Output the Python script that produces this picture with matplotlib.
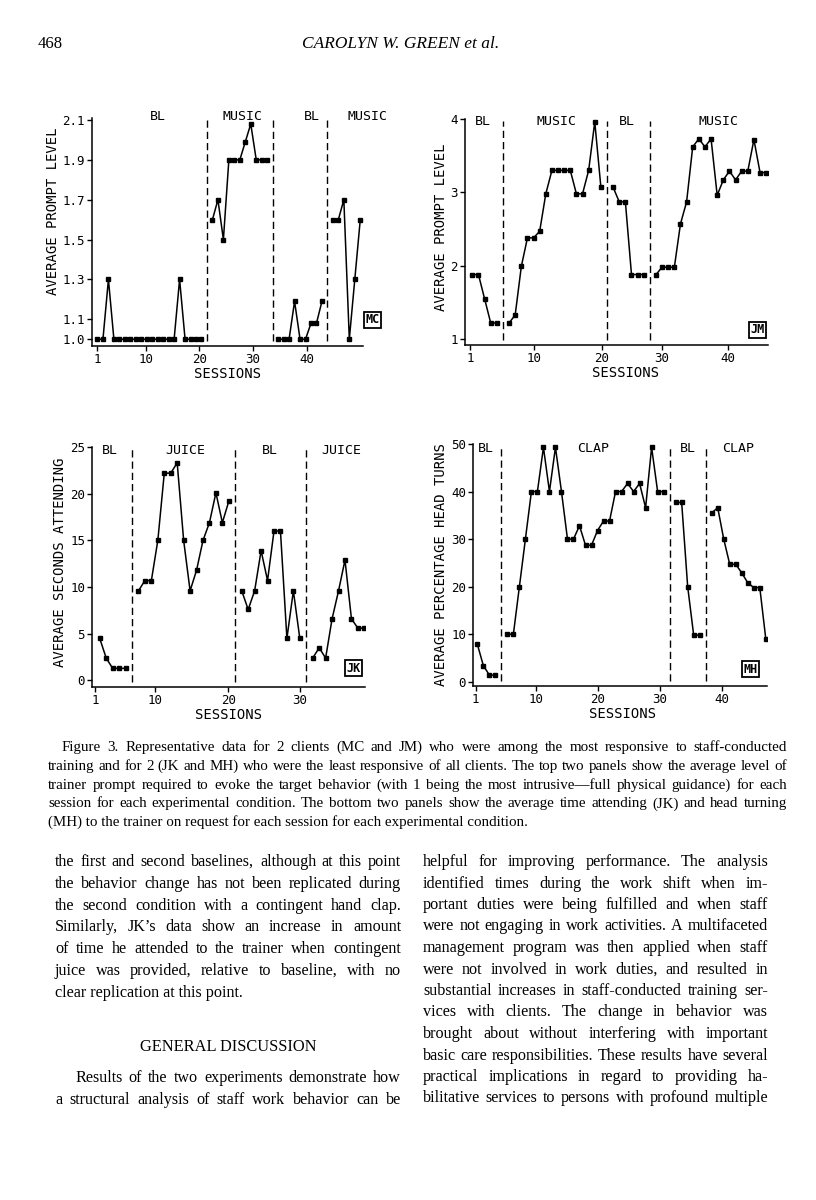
import numpy as np
import matplotlib.pyplot as plt
from matplotlib.transforms import blended_transform_factory

W, H = 816, 1200

# ---- MC: average prompt level ----
mc_names = ["BL", "MUSIC", "BL", "MUSIC"]
mc_bl1 = [1.0, 1.0, 1.3, 1.0, 1.0, 1.0, 1.0, 1.0, 1.0, 1.0, 1.0, 1.0, 1.0, 1.0, 1.0, 1.3, 1.0, 1.0, 1.0, 1.0]
mc_music1 = [1.6, 1.7, 1.5, 1.9, 1.9, 1.9, 1.99, 2.08, 1.9, 1.9, 1.9]
mc_bl2 = [1.0, 1.0, 1.0, 1.19, 1.0, 1.0, 1.08, 1.08, 1.19]
mc_music2 = [1.6, 1.6, 1.7, 1.0, 1.3, 1.6]

# ---- JM: average prompt level ----
jm_names = ["BL", "MUSIC", "BL", "MUSIC"]
jm_bl1 = [1.88, 1.88, 1.55, 1.22, 1.22]
jm_music1 = [1.22, 1.33, 1.99, 2.38, 2.38, 2.47, 2.98, 3.3, 3.3, 3.3, 3.3, 2.98, 2.98, 3.3, 3.96, 3.07]
jm_bl2 = [3.07, 2.87, 2.87, 1.88, 1.88, 1.88]
jm_music2 = [1.88, 1.98, 1.98, 1.98, 2.57, 2.87, 3.62, 3.73, 3.62, 3.73, 2.96, 3.17, 3.29, 3.17, 3.29, 3.29, 3.72, 3.27, 3.27]

# ---- JK: average seconds attending ----
jk_names = ["BL", "JUICE", "BL", "JUICE"]
jk_bl1 = [4.5, 2.4, 1.3, 1.3, 1.3]
jk_juice1 = [9.6, 10.7, 10.7, 15.0, 22.2, 22.2, 23.3, 15.0, 9.6, 11.8, 15.0, 16.9, 20.1, 16.9, 19.2]
jk_bl2 = [9.6, 7.6, 9.6, 13.9, 10.7, 16.0, 16.0, 4.5, 9.6, 4.5]
jk_juice2 = [2.4, 3.5, 2.4, 6.6, 9.6, 12.9, 6.6, 5.6, 5.6]

# ---- MH: average percentage head turns ----
mh_names = ["BL", "CLAP", "BL", "CLAP"]
mh_bl1 = [7.9, 3.4, 1.4, 1.4]
mh_clap1 = [10, 10, 20, 30, 40, 40, 49.3, 40, 49.3, 40, 30, 30, 32.8, 28.7, 28.7, 31.8, 33.8, 33.8,
            40, 40, 41.7, 40, 41.7, 36.6, 49.3, 40, 40]
mh_bl2 = [37.7, 37.7, 20, 9.8, 9.8]
mh_clap2 = [35.5, 36.6, 30, 24.7, 24.7, 22.9, 20.8, 19.8, 19.8, 9.0]

session_labels = ["1", "10", "20", "30", "40"]

header_left = "468"
header_title = "CAROLYN W. GREEN et al."

caption_lines = [
    "Figure 3.  Representative data for 2 clients (MC and JM) who were among the most responsive to staff-conducted",
    "training and for 2 (JK and MH) who were the least responsive of all clients. The top two panels show the average level of",
    "trainer prompt required to evoke the target behavior (with 1 being the most intrusive\u2014full physical guidance) for each",
    "session for each experimental condition. The bottom two panels show the average time attending (JK) and head turning",
    "(MH) to the trainer on request for each session for each experimental condition.",
]
left_col = [
    "the first and second baselines, although at this point",
    "the behavior change has not been replicated during",
    "the second condition with a contingent hand clap.",
    "Similarly, JK\u2019s data show an increase in amount",
    "of time he attended to the trainer when contingent",
    "juice was provided, relative to baseline, with no",
    "clear replication at this point.",
]
heading = "GENERAL DISCUSSION"
left_col2 = [
    "Results of the two experiments demonstrate how",
    "a structural analysis of staff work behavior can be",
]
right_col = [
    "helpful for improving performance. The analysis",
    "identified times during the work shift when im-",
    "portant duties were being fulfilled and when staff",
    "were not engaging in work activities. A multifaceted",
    "management program was then applied when staff",
    "were not involved in work duties, and resulted in",
    "substantial increases in staff-conducted training ser-",
    "vices with clients. The change in behavior was",
    "brought about without interfering with important",
    "basic care responsibilities. These results have several",
    "practical implications in regard to providing ha-",
    "bilitative services to persons with profound multiple",
]

CHART_FONT = "DejaVu Sans Mono"
SERIF = "Liberation Serif"

fig = plt.figure(figsize=(W / 100, H / 100), dpi=100)
renderer = fig.canvas.get_renderer()


def px_axes(x0, y0, x1, y1):
    return fig.add_axes([x0 / W, 1 - y1 / H, (x1 - x0) / W, (y1 - y0) / H])


def draw_panel(ax, phases, names, xlim, ylim, yticks, yticklabels, tick_at, label_x, label_y,
               ylabel, client, client_xy, ylabel_at=0.5, xlabel_at=0.5):
    # each phase gets consecutive sessions, one empty slot holds the phase line
    start = 1
    for i, vals in enumerate(phases):
        x = np.arange(start, start + len(vals))
        ax.plot(x, vals, color="black", lw=1.1, marker="s", ms=2.4)
        start += len(vals)
        if i < len(phases) - 1:
            ax.axvline(start, ymin=0.02, ymax=0.99, color="black", lw=1.0,
                       dashes=(5.2, 2.9))
            start += 1
    trans = blended_transform_factory(ax.transData, ax.transAxes)
    for lx, name in zip(label_x, names):
        ax.text(lx, label_y, name, transform=trans, ha="center", va="center",
                fontsize=9.5, family=CHART_FONT, clip_on=False)
    ax.text(client_xy[0], client_xy[1], client, ha="center", va="center", fontsize=8.5,
            family=CHART_FONT, fontweight="bold", clip_on=False,
            bbox=dict(boxstyle="square,pad=0.12", fc="white", ec="black", lw=1.3))
    ax.set_xlim(*xlim)
    ax.set_ylim(*ylim)
    ax.set_yticks(yticks)
    ax.set_yticklabels(yticklabels, family=CHART_FONT, fontsize=9)
    ax.set_xticks(tick_at)
    ax.set_xticklabels(session_labels[:len(tick_at)], family=CHART_FONT, fontsize=9)
    ax.tick_params(direction="out", length=3.5, width=1.0, pad=1.5)
    ax.set_xlabel("SESSIONS", family=CHART_FONT, fontsize=10, labelpad=1)
    ax.set_ylabel(ylabel, family=CHART_FONT, fontsize=10, labelpad=2)
    ax.yaxis.label.set_y(ylabel_at)
    ax.xaxis.label.set_x(xlabel_at)
    for s in ["top", "right"]:
        ax.spines[s].set_visible(False)
    for s in ["left", "bottom"]:
        ax.spines[s].set_linewidth(1.1)


ax1 = px_axes(92, 118, 363, 346)
draw_panel(ax1, [mc_bl1, mc_music1, mc_bl2, mc_music2], mc_names,
           (0, 49.5), (0.966, 2.11),
           [1.0, 1.1, 1.3, 1.5, 1.7, 1.9, 2.1], ["1.0", "1.1", "1.3", "1.5", "1.7", "1.9", "2.1"],
           [1, 9.9, 19.6, 29.4, 39.2], [12.1, 27.5, 40.1, 50.4], 1.005,
           "AVERAGE PROMPT LEVEL", "MC", (51.3, 1.097), ylabel_at=0.59)

ax2 = px_axes(465, 119, 768, 345)
draw_panel(ax2, [jm_bl1, jm_music1, jm_bl2, jm_music2], jm_names,
           (-0.2, 49.3), (0.92, 4.0),
           [1, 2, 3, 4], ["1", "2", "3", "4"],
           [0.6, 11.0, 22.2, 32.0, 42.7], [2.8, 14.75, 26.3, 41.2], 0.987,
           "AVERAGE PROMPT LEVEL", "JM", (47.6, 1.13), ylabel_at=0.52, xlabel_at=0.53)

ax3 = px_axes(92, 447, 365, 687)
draw_panel(ax3, [jk_bl1, jk_juice1, jk_bl2, jk_juice2], jk_names,
           (-0.2, 42.1), (-0.7, 25),
           [0, 5, 10, 15, 20, 25], ["0", "5", "10", "15", "20", "25"],
           [0.3, 9.6, 20.9, 32.0], [2.55, 14.25, 27.4, 38.5], 0.986,
           "AVERAGE SECONDS ATTENDING", "JK", (40.3, 1.32), ylabel_at=0.52)

ax4 = px_axes(473, 444, 767, 686)
draw_panel(ax4, [mh_bl1, mh_clap1, mh_bl2, mh_clap2], mh_names,
           (0.28, 49.2), (-0.9, 50),
           [0, 10, 20, 30, 40, 50], ["0", "10", "20", "30", "40", "50"],
           [0.7, 10.8, 21.1, 31.4, 41.7], [2.5, 20.3, 36.0, 44.4], 0.982,
           "AVERAGE PERCENTAGE HEAD TURNS", "MH", (46.4, 2.66), xlabel_at=0.51)


def text_width(text, size):
    t = fig.text(0, 0, text, fontsize=size, family=SERIF)
    w = t.get_window_extent(renderer).width
    t.remove()
    return w


def fit_size(lines, widths, base=10.0):
    # largest size at which every justified line still fits its measure
    return min(base * wd / text_width(l, base) for l, wd in zip(lines, widths)) * 0.99


def put_line(text, x0, x1, y, size, justify=True, **kw):
    if not justify:
        fig.text(x0 / W, 1 - y / H, text, fontsize=size, va="baseline", family=SERIF, **kw)
        return
    words = text.split()
    objs = [fig.text(0, 1 - y / H, w, fontsize=size, va="baseline", family=SERIF, **kw)
            for w in words]
    widths = [o.get_window_extent(renderer).width for o in objs]
    gap = ((x1 - x0) - sum(widths)) / max(len(words) - 1, 1)
    x = x0
    for o, w in zip(objs, widths):
        o.set_x(x / W)
        x += w + gap


# running head
fig.text(38 / W, 1 - 48 / H, header_left, fontsize=12, family=SERIF, va="baseline")
fig.text(401 / W, 1 - 48 / H, header_title, fontsize=12.5, family=SERIF, style="italic",
         ha="center", va="baseline")

# caption
cap_size = fit_size(caption_lines[:4], [725, 739, 739, 739])
for i, line in enumerate(caption_lines):
    x0 = 62 if i == 0 else 48
    put_line(line, x0, 787, 751 + i * 18.8, cap_size, justify=i < len(caption_lines) - 1)

# body text
body_size = fit_size(left_col[:6] + right_col + left_col2[1:], [346] * 6 + [345] * 12 + [346])
for i, line in enumerate(left_col):
    put_line(line, 55, 401, 866 + i * 21.8, body_size, justify=i < len(left_col) - 1)
fig.text(228 / W, 1 - 1051 / H, heading, fontsize=body_size * 1.02, family=SERIF,
         ha="center", va="baseline")
put_line(left_col2[0], 75, 401, 1082, body_size)
put_line(left_col2[1], 55, 401, 1103.5, body_size)
for i, line in enumerate(right_col):
    put_line(line, 423, 768, 866 + i * 21.5, body_size)

fig.savefig("out.png", dpi=100)
